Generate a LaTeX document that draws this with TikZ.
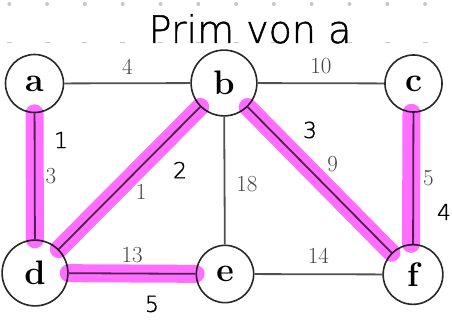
\documentclass[tikz,border=0pt]{standalone}
\usepackage{fontspec}
\usepackage{xcolor}
\usepackage{tikz}
\usetikzlibrary{positioning, calc}
\newfontfamily\handfont{DejaVu Sans ExtraLight}[AutoFakeBold=1.2]
\definecolor{EdgeGray}{RGB}{80,80,80}
\definecolor{NodeGray}{RGB}{40,40,40}
\definecolor{PenMagenta}{RGB}{255,110,255}
\definecolor{DotGray}{RGB}{200,200,200}

\begin{document}
\begin{tikzpicture}[x=1pt, y=-1pt,
  vertex/.style={draw=NodeGray, circle, line width=1.6pt, inner sep=12pt,
                 font=\fontsize{34}{34}\selectfont\bfseries},
  link/.style={draw=EdgeGray, line width=1.8pt},
  wt/.style={font=\fontsize{23}{23}\selectfont, text=EdgeGray!85!black, inner sep=2pt},
  hilite/.style={draw=PenMagenta, line width=18pt, line cap=round, blend mode=multiply},
  hand/.style={font=\handfont\bfseries\fontsize{22}{22}\selectfont, text=black, inner sep=0pt},
  gdot/.style={fill=DotGray},
]
\useasboundingbox (0,0) rectangle (452,320);
%% Dotted paper
\foreach \k in {0,...,11} {
  \fill[gdot] ({9.3+37.8*\k}, 4) circle (2pt);
  \fill[gdot] ({6.8+37.8*\k}, 41.6) rectangle +(5,1.4);
}
%% Vertices
\node[vertex] (a) at (34.5,83.5) {a};
\node[vertex] (b) at (224,83) {b};
\node[vertex] (c) at (413.5,83.5) {c};
\node[vertex] (d) at (35,273) {d};
\node[vertex] (e) at (225,274) {e};
\node[vertex] (f) at (413,274.5) {f};
%% Edges with weights
\draw[link] (a) -- (b) node[wt, midway, above=6pt] {4};
\draw[link] (b) -- (c) node[wt, midway, above=6pt] {10};
\draw[link] (a) -- (d) node[wt, midway, right=8pt] {3};
\draw[link] (b) -- (d) node[wt, midway, below right=5pt] {1};
\draw[link] (b) -- (e) node[wt, pos=0.53, right=9pt] {18};
\draw[link] (b) -- (f) node[wt, midway, above right=7pt] {9};
\draw[link] (c) -- (f) node[wt, midway, right=7pt] {5};
\draw[link] (d) -- (e) node[wt, midway, above=8pt] {13};
\draw[link] (e) -- (f) node[wt, midway, above=8pt] {14};
%% Highlighted tree edges
\draw[hilite] (a) -- (d);
\draw[hilite] (b) -- (d);
\draw[hilite] (d) -- (e);
\draw[hilite] (b) -- (f);
\draw[hilite] ([xshift=-2pt]c.south) -- ([xshift=-2pt]f.north);
%% Handwritten notes
\node[hand, font=\handfont\bfseries\fontsize{38}{38}\selectfont, anchor=base] (title) at (250,43) {Prim von a};
\node[hand] (n1) at (61,140) {1};
\node[hand] (n2) at (180,170) {2};
\node[hand] (n3) at (310,130) {3};
\node[hand] (n4) at (444,212) {4};
\node[hand] (n5) at (152,304) {5};
\end{tikzpicture}
\end{document}
